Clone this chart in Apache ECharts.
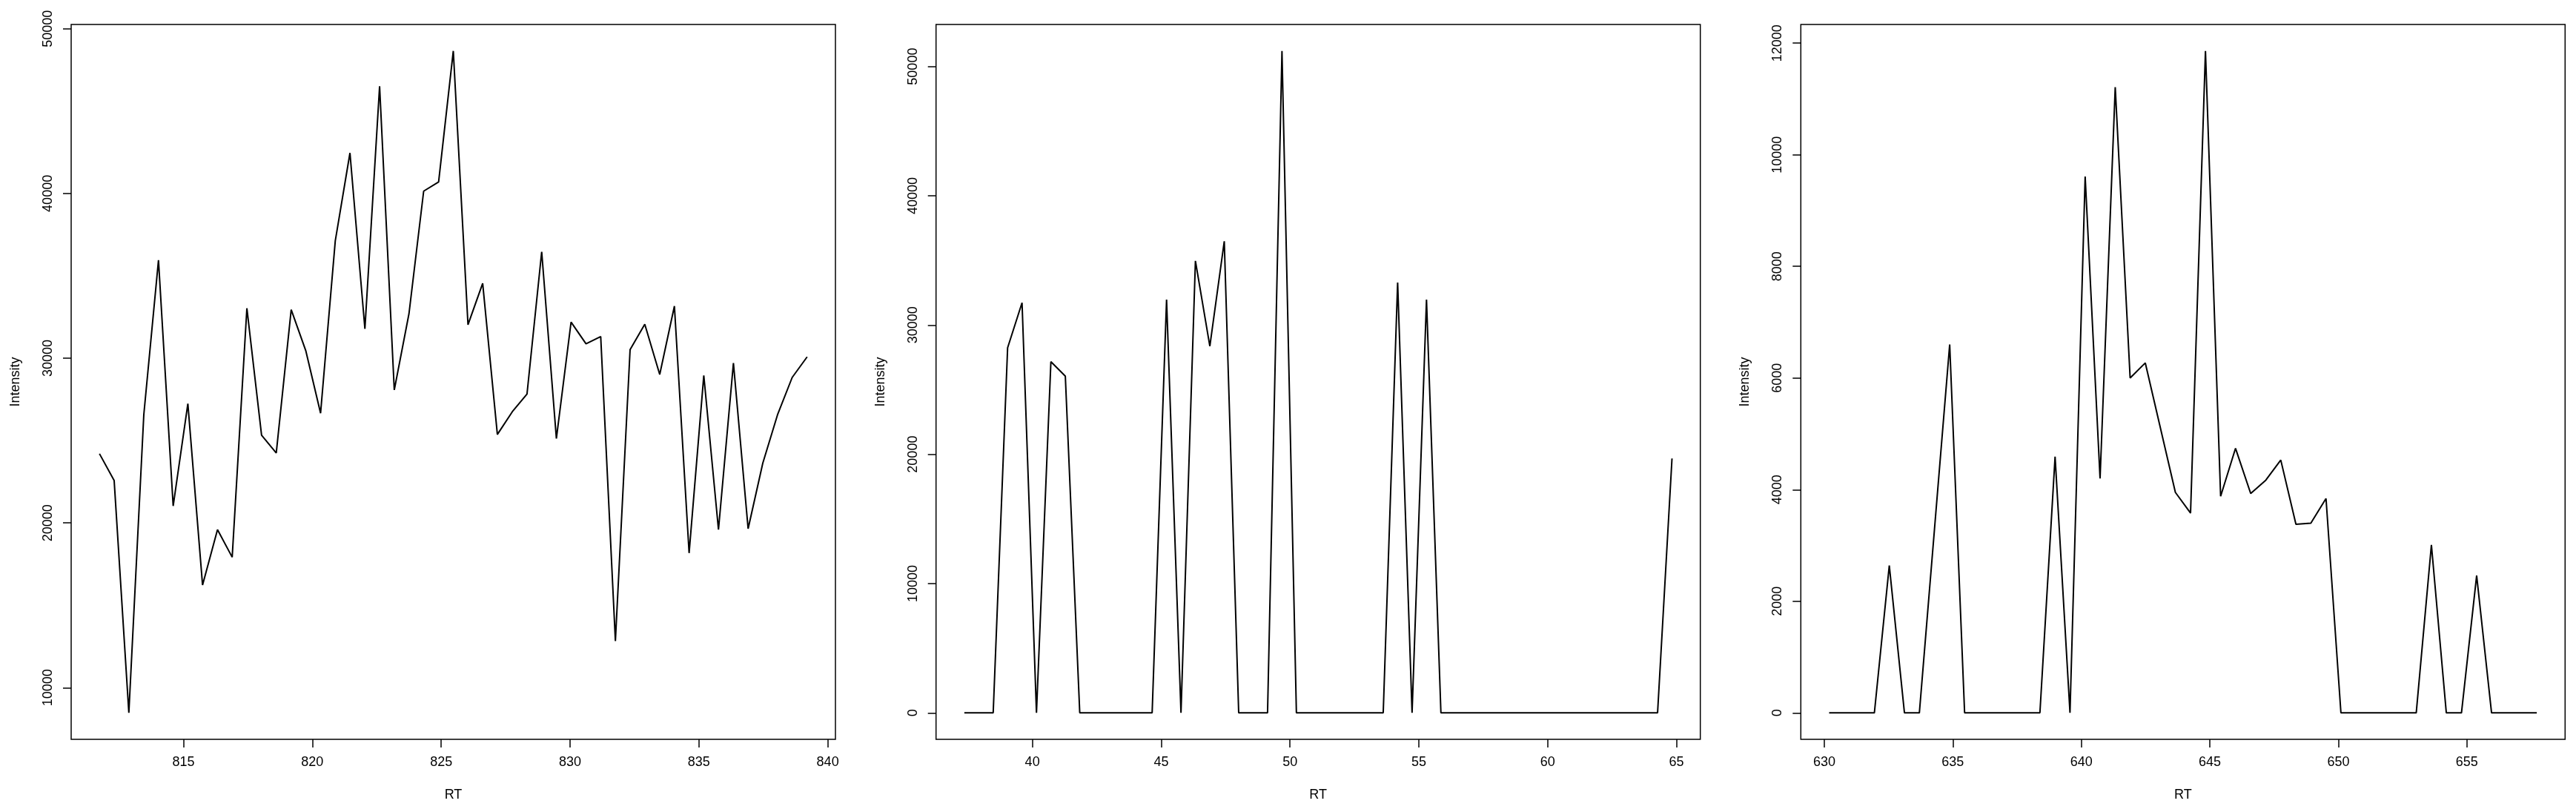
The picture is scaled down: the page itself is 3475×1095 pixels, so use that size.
<!DOCTYPE html>
<html>
<head>
<meta charset="utf-8">
<script src="https://cdn.jsdelivr.net/npm/echarts@6/dist/echarts.min.js"></script>
<style>
html,body{margin:0;padding:0;background:#fff;}
#c{width:3475px;height:1095px;}
</style>
</head>
<body>
<div id="c"></div>
<script>
// ---- Panel 1 ----
const rt1 = [811.74,812.31,812.88,813.46,814.03,814.60,815.17,815.74,816.32,816.89,
  817.46,818.03,818.60,819.18,819.75,820.32,820.89,821.46,822.04,822.61,
  823.18,823.75,824.32,824.90,825.47,826.04,826.61,827.18,827.76,828.33,
  828.90,829.47,830.04,830.62,831.19,831.76,832.33,832.90,833.48,834.05,
  834.62,835.19,835.76,836.34,836.91,837.48,838.05,838.62,839.20];
const int1 = [24200,22570,8470,26560,35950,21030,27240,16230,19590,17920,
  33030,25320,24240,32940,30430,26660,37120,42460,31780,46510,
  28070,32700,40140,40700,48650,32030,34540,25370,26750,27820,
  36460,25120,32190,30870,31310,12830,30520,32060,29010,33160,
  18170,28950,19590,29700,19650,23630,26560,28830,30080];
const xTicks1 = [815,820,825,830,835,840];
const yTicks1 = [10000,20000,30000,40000,50000];

// ---- Panel 2 ----
const rt2 = [37.36,37.92,38.48,39.04,39.60,40.16,40.72,41.28,41.84,42.40,
  42.96,43.52,44.09,44.65,45.21,45.77,46.33,46.89,47.45,48.01,
  48.57,49.13,49.69,50.25,50.81,51.37,51.94,52.50,53.06,53.62,
  54.18,54.74,55.30,55.86,56.42,56.98,57.54,58.10,58.66,59.22,
  59.79,60.35,60.91,61.47,62.03,62.59,63.15,63.71,64.27,64.83];
const int2 = [0,0,0,28240,31720,0,27160,26040,0,0,
  0,0,0,0,31960,0,34960,28360,36480,0,
  0,0,51200,0,0,0,0,0,0,0,
  33280,0,31960,0,0,0,0,0,0,0,
  0,0,0,0,0,0,0,0,0,19680];
const xTicks2 = [40,45,50,55,60,65];
const yTicks2 = [0,10000,20000,30000,40000,50000];

// ---- Panel 3 ----
const rt3 = [630.19,630.78,631.36,631.95,632.53,633.12,633.70,634.29,634.88,635.46,
  636.05,636.63,637.22,637.80,638.39,638.98,639.56,640.15,640.73,641.32,
  641.90,642.49,643.08,643.66,644.25,644.83,645.42,646.00,646.59,647.18,
  647.76,648.35,648.93,649.52,650.10,650.69,651.28,651.86,652.45,653.03,
  653.62,654.20,654.79,655.38,655.96,656.55,657.13,657.72];
const int3 = [0,0,0,0,2640,0,0,3300,6600,0,
  0,0,0,0,0,4590,0,9610,4200,11210,
  6000,6270,5100,3950,3580,11860,3880,4740,3930,4170,
  4530,3380,3400,3840,0,0,0,0,0,0,
  3010,0,0,2460,0,0,0,0];
const xTicks3 = [630,635,640,645,650,655];
const yTicks3 = [0,2000,4000,6000,8000,10000,12000];

const panels = [
  {rt: rt1, val: int1, xt: xTicks1, yt: yTicks1},
  {rt: rt2, val: int2, xt: xTicks2, yt: yTicks2},
  {rt: rt3, val: int3, xt: xTicks3, yt: yTicks3}
];

function usr(arr){
  const mn = Math.min.apply(null, arr), mx = Math.max.apply(null, arr);
  const r = mx - mn;
  return [mn - 0.04*r, mx + 0.04*r];
}

const FONT = 'Liberation Sans, Arial, Helvetica, sans-serif';
const lefts = [96, 1262.7, 2429.3];
const grids = [], xAxes = [], yAxes = [], series = [];
const plain = v => String(Math.round(v));
panels.forEach((p, i) => {
  grids.push({left: lefts[i], top: 33, width: 1031, height: 964,
    show: true, borderColor: '#000', borderWidth: 1.5, backgroundColor: 'transparent',
    containLabel: false});
  const xr = usr(p.rt), yr = usr(p.val);
  xAxes.push({type: 'value', gridIndex: i, min: xr[0], max: xr[1], position: 'bottom',
    axisLine: {show: false, onZero: false},
    axisTick: {show: true, inside: false, length: 11, customValues: p.xt,
      lineStyle: {color: '#000', width: 1.5}},
    axisLabel: {customValues: p.xt, formatter: plain, color: '#000', fontSize: 18, fontFamily: FONT, margin: 22},
    splitLine: {show: false},
    name: 'RT', nameLocation: 'middle', nameGap: 66,
    nameTextStyle: {color: '#000', fontSize: 18, fontFamily: FONT}
  });
  yAxes.push({type: 'value', gridIndex: i, min: yr[0], max: yr[1], position: 'left',
    axisLine: {show: false, onZero: false},
    axisTick: {show: true, inside: false, length: 11, customValues: p.yt,
      lineStyle: {color: '#000', width: 1.5}},
    axisLabel: {customValues: p.yt, formatter: plain, color: '#000', fontSize: 18, fontFamily: FONT, margin: 22, rotate: 90},
    splitLine: {show: false},
    name: 'Intensity', nameLocation: 'middle', nameGap: 66, nameRotate: 90,
    nameTextStyle: {color: '#000', fontSize: 18, fontFamily: FONT}
  });
  series.push({type: 'line', xAxisIndex: i, yAxisIndex: i,
    data: p.rt.map((x, k) => [x, p.val[k]]),
    showSymbol: false, symbol: 'none',
    lineStyle: {color: '#000', width: 2}, silent: true});
});

const chart = echarts.init(document.getElementById('c'), null, {renderer: 'canvas'});
chart.setOption({
  animation: false,
  backgroundColor: '#fff',
  grid: grids, xAxis: xAxes, yAxis: yAxes, series: series
});
</script>
</body>
</html>
